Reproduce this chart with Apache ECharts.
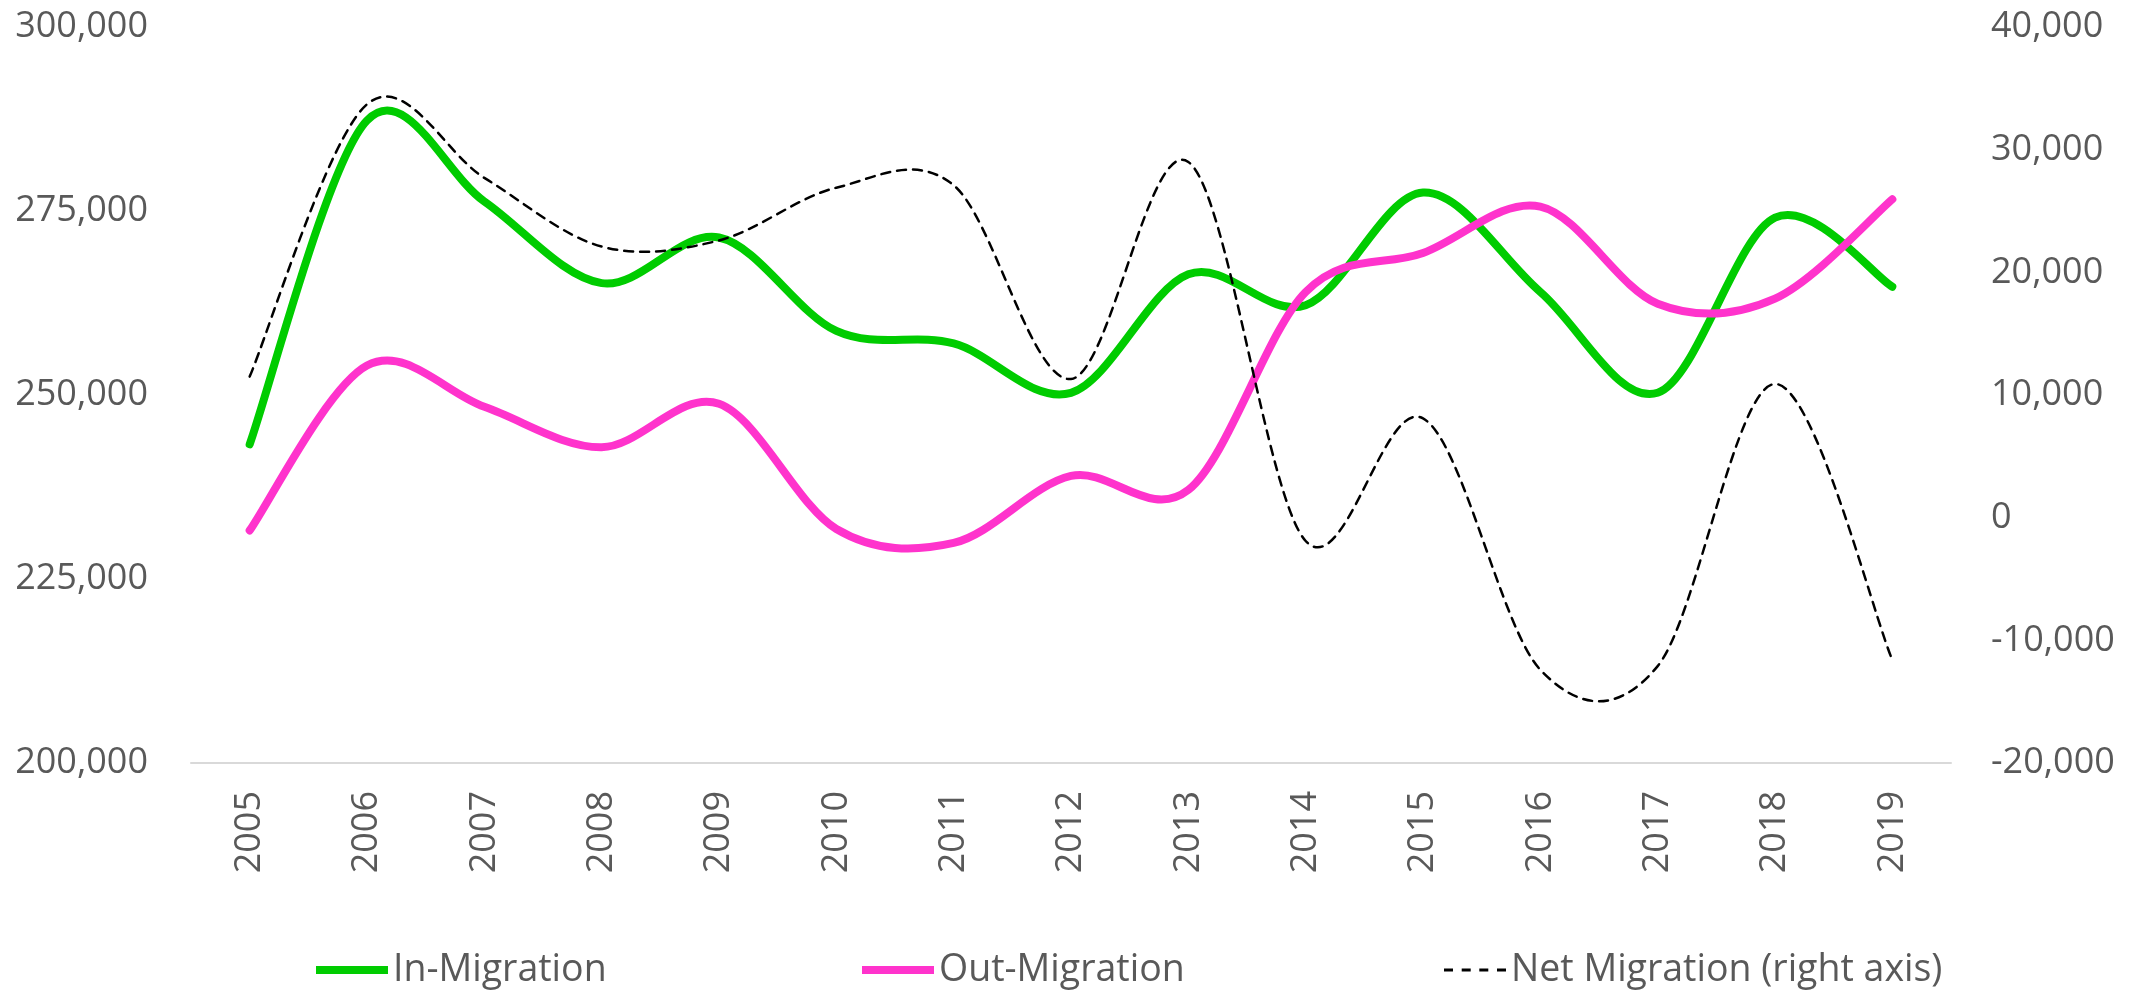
<!DOCTYPE html>
<html>
<head>
<meta charset="utf-8">
<title>Migration</title>
<script src="https://cdn.jsdelivr.net/npm/echarts@6/dist/echarts.min.js"></script>
<style>
  html, body { margin: 0; padding: 0; background: #fff; }
  #chart { width: 2136px; height: 990px; }
</style>
</head>
<body>
<div id="chart"></div>
<script>
// years on the category axis
const years = ['2005', '2006', '2007', '2008', '2009', '2010', '2011', '2012',
  '2013', '2014', '2015', '2016', '2017', '2018', '2019']

// values
const inMigration = [243300, 287300, 276300, 265200, 271400, 258700, 257000, 250300,
  266400, 262200, 277500, 264000, 250300, 274100, 264700]
const outMigration = [231600, 254000, 248400, 242900, 248800, 231800, 229900, 239000,
  237100, 264000, 269300, 275600, 262400, 263100, 276600]
const netMigration = [11500, 33700, 27700, 22100, 22600, 26900, 27100, 11300,
  29000, -1900, 8100, -12400, -12100, 10900, -11600]

const textColor = '#595959'
const font = '"Open Sans", sans-serif'
const fmt = v => v.toLocaleString('en-US')

// Excel style smoothing: a cubic Bezier through every point,
// control points at 1/6 of the chord between the neighbours (overshoot allowed)
function smoothPath(pts) {
  const n = pts.length
  let d = 'M' + pts[0][0] + ',' + pts[0][1]
  for (let i = 0; i < n - 1; i++) {
    const p0 = pts[Math.max(i - 1, 0)]
    const p1 = pts[i]
    const p2 = pts[i + 1]
    const p3 = pts[Math.min(i + 2, n - 1)]
    const c1x = p1[0] + (p2[0] - p0[0]) / 6
    const c1y = p1[1] + (p2[1] - p0[1]) / 6
    const c2x = p2[0] - (p3[0] - p1[0]) / 6
    const c2y = p2[1] - (p3[1] - p1[1]) / 6
    d += ' C' + c1x + ',' + c1y + ' ' + c2x + ',' + c2y + ' ' + p2[0] + ',' + p2[1]
  }
  return d
}

// custom series that draws the whole line once, from the data through the axes
function smoothLine(values, color, width, dash) {
  return (params, api) => {
    if (params.dataIndex !== 0) return null
    const pts = values.map((v, i) => api.coord([i, v]))
    return {
      type: 'path',
      shape: { pathData: smoothPath(pts) },
      style: { fill: 'none', stroke: color, lineWidth: width, lineDash: dash, lineCap: 'round', lineJoin: 'round' }
    }
  }
}

const chart = echarts.init(document.getElementById('chart'))

const legendText = { color: textColor, fontSize: 37.5, fontFamily: font, lineHeight: 48 }
const solidIcon = 'path://M0,0h72v8h-72z'
const dashIcon = 'path://M0,0h9v3h-9z M17.7,0h9v3h-9z M35.3,0h9v3h-9z M53,0h9v3h-9z'

chart.setOption({
  animation: false,
  grid: { left: 191, right: 185, top: 27, bottom: 227, containLabel: false },
  legend: [
    { data: [{ name: 'In-Migration', icon: solidIcon }], left: 316, top: 946, padding: 0, itemWidth: 72, itemHeight: 8, textStyle: legendText },
    { data: [{ name: 'Out-Migration', icon: solidIcon }], left: 862, top: 946, padding: 0, itemWidth: 72, itemHeight: 8, textStyle: legendText },
    { data: [{ name: 'Net Migration (right axis)', icon: dashIcon }], left: 1444, top: 946, padding: 0, itemWidth: 62, itemHeight: 3, textStyle: legendText }
  ],
  xAxis: {
    type: 'category',
    data: years,
    boundaryGap: true,
    axisLine: { onZero: false, lineStyle: { color: '#d9d9d9', width: 2 } },
    axisTick: { show: false },
    axisLabel: { rotate: 90, margin: 28, color: textColor, fontSize: 36, fontFamily: font }
  },
  yAxis: [
    {
      type: 'value',
      min: 200000,
      max: 300000,
      interval: 25000,
      splitLine: { show: false },
      axisLine: { show: false },
      axisTick: { show: false },
      axisLabel: { margin: 43, color: textColor, fontSize: 36, fontFamily: font, formatter: fmt }
    },
    {
      type: 'value',
      min: -20000,
      max: 40000,
      interval: 10000,
      position: 'right',
      splitLine: { show: false },
      axisLine: { show: false },
      axisTick: { show: false },
      axisLabel: { margin: 40, color: textColor, fontSize: 36, fontFamily: font, formatter: fmt }
    }
  ],
  series: [
    {
      name: 'In-Migration',
      type: 'custom',
      data: inMigration.map((v, i) => [i, v]),
      encode: { x: 0, y: 1 },
      z: 2,
      itemStyle: { color: '#00cc00' },
      renderItem: smoothLine(inMigration, '#00cc00', 8, null)
    },
    {
      name: 'Out-Migration',
      type: 'custom',
      data: outMigration.map((v, i) => [i, v]),
      encode: { x: 0, y: 1 },
      z: 3,
      itemStyle: { color: '#ff33cc' },
      renderItem: smoothLine(outMigration, '#ff33cc', 8, null)
    },
    {
      name: 'Net Migration (right axis)',
      type: 'custom',
      yAxisIndex: 1,
      data: netMigration.map((v, i) => [i, v]),
      encode: { x: 0, y: 1 },
      z: 4,
      itemStyle: { color: '#000000' },
      renderItem: smoothLine(netMigration, '#000000', 2.5, [9, 7])
    }
  ]
})

window.addEventListener('resize', () => chart.resize())
</script>
</body>
</html>
